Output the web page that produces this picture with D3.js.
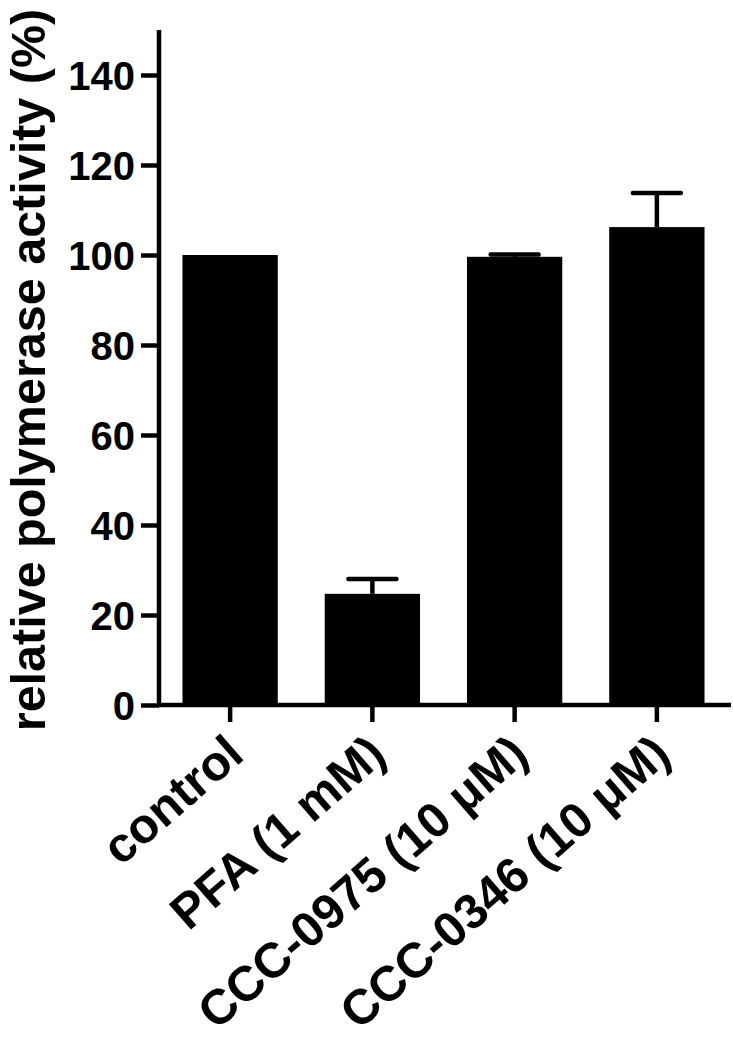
<!DOCTYPE html>
<html>
<head>
<meta charset="utf-8">
<script src="https://cdn.jsdelivr.net/npm/d3@7"></script>
<style>
  html, body { margin: 0; padding: 0; background: #fff; }
  svg { display: block; }
  text { font-family: "Liberation Sans", Arial, Helvetica, sans-serif; font-weight: bold; fill: #000; }
</style>
</head>
<body>
<svg id="chart" width="733" height="1050"></svg>
<script>
const categories = ["control", "PFA (1 mM)", "CCC-0975 (10 \u03BCM)", "CCC-0346 (10 \u03BCM)"];
const means = [100, 24.7, 99.6, 106.2];
const errors = [0, 3.3, 0.5, 7.6];
const yTicks = [0, 20, 40, 60, 80, 100, 120, 140];
const yTitle = "relative polymerase activity (%)";

const svg = d3.select("#chart");
const x0 = 159, xEnd = 731, yZero = 705, yTop = 30;

const x = d3.scaleBand().domain(categories).range([x0, 728])
  .paddingInner(0.33).paddingOuter(0.165);
const y = d3.scaleLinear().domain([0, 150]).range([yZero, yTop]);

// bars
svg.append("g").selectAll("rect").data(categories).join("rect")
  .attr("x", d => x(d))
  .attr("y", (d, i) => y(means[i]))
  .attr("width", x.bandwidth())
  .attr("height", (d, i) => y(0) - y(means[i]))
  .attr("fill", "#000");

// error bars
const eg = svg.append("g").attr("stroke", "#000").attr("stroke-width", 4.5).attr("stroke-linecap", "round");
categories.forEach((c, i) => {
  if (errors[i] <= 0) return;
  const cx = x(c) + x.bandwidth() / 2;
  eg.append("line").attr("x1", cx).attr("x2", cx)
    .attr("y1", y(means[i])).attr("y2", y(means[i] + errors[i])).attr("stroke-linecap", "butt");
  eg.append("line").attr("x1", cx - 24).attr("x2", cx + 24)
    .attr("y1", y(means[i] + errors[i])).attr("y2", y(means[i] + errors[i]));
});

// y axis
const yAxis = d3.axisLeft(y).tickValues(yTicks).tickSize(18).tickPadding(6).tickSizeOuter(0);
const gy = svg.append("g").attr("transform", `translate(${x0},0)`).call(yAxis);
gy.select(".domain").remove();
gy.append("line").attr("x1", 0).attr("x2", 0).attr("y1", yTop).attr("y2", yZero + 2)
  .attr("stroke", "#000").attr("stroke-width", 4.5);
gy.selectAll(".tick line").attr("stroke", "#000").attr("stroke-width", 4.5);
gy.selectAll(".tick text").attr("font-size", 40).attr("font-family", "Liberation Sans, Arial, sans-serif")
  .attr("font-weight", "bold").attr("fill", "#000").attr("dy", "0.36em");

// x axis
svg.append("line").attr("x1", x0 - 2).attr("x2", xEnd).attr("y1", yZero).attr("y2", yZero)
  .attr("stroke", "#000").attr("stroke-width", 4.5);
const xAxis = d3.axisBottom(x).tickSize(17).tickSizeOuter(0).tickFormat("");
const gx = svg.append("g").attr("transform", `translate(0,${yZero})`).call(xAxis);
gx.select(".domain").remove();
gx.selectAll(".tick line").attr("stroke", "#000").attr("stroke-width", 4.5);

// x labels rotated
svg.append("g").selectAll("text").data(categories).join("text")
  .attr("transform", d => `translate(${x(d) + x.bandwidth() / 2 + 16},${758}) rotate(-41)`)
  .attr("text-anchor", "end")
  .attr("font-size", 49)
  .text(d => d);

// y title
svg.append("text")
  .attr("transform", `translate(45,370) rotate(-90)`)
  .attr("text-anchor", "middle")
  .attr("font-size", 48.5)
  .text(yTitle);
</script>
</body>
</html>
